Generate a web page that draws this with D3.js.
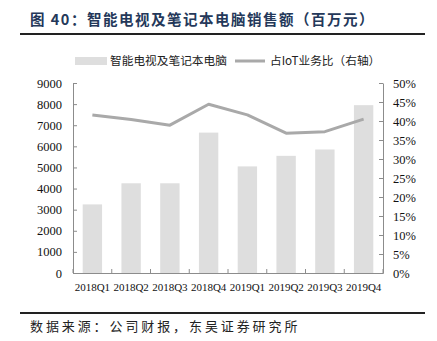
<!DOCTYPE html>
<html><head><meta charset="utf-8">
<script src="https://cdn.jsdelivr.net/npm/d3@7/dist/d3.min.js"></script>
<style>body{margin:0;background:#fff}</style>
</head><body>
<svg id="c" width="437" height="341"></svg>
<script>
const categories = ["2018Q1","2018Q2","2018Q3","2018Q4","2019Q1","2019Q2","2019Q3","2019Q4"];
const sales = [3250, 4250, 4250, 6650, 5050, 5550, 5850, 7950];
const iotShare = [41.6, 40.4, 38.9, 44.4, 41.6, 36.8, 37.2, 40.5];
const leftTicks = [0,1000,2000,3000,4000,5000,6000,7000,8000,9000];
const rightTicks = [0,5,10,15,20,25,30,35,40,45,50];
const title = "图 40：智能电视及笔记本电脑销售额（百万元）";
const source = "数据来源：公司财报，东吴证券研究所";
const legendNames = ["智能电视及笔记本电脑","占IoT业务比（右轴）"];

const svg = d3.select("#c");
const L = 73, R = 383, T = 83, B = 273;
const x = d3.scaleBand().domain(categories).range([L, R]).paddingInner(0.5).paddingOuter(0.25);
const yL = d3.scaleLinear().domain([0, 9000]).range([B, T]);
const yR = d3.scaleLinear().domain([0, 50]).range([B, T]);
const axisColor = "#8c8c8c";
const serif = "'Liberation Serif','Times New Roman',serif";
const cjk = "'Noto Sans CJK SC','Noto Sans',sans-serif";

// title
svg.append("text").attr("x", 30).attr("y", 25).attr("font-family", cjk).attr("font-weight", "bold")
  .attr("font-size", 14.5).attr("letter-spacing", 1.5).attr("fill", "#24385a").text(title);
svg.append("line").attr("x1", 20).attr("x2", 425).attr("y1", 34).attr("y2", 34).attr("stroke", "#222").attr("stroke-width", 2);

// bars
svg.append("g").selectAll("rect").data(categories).join("rect")
  .attr("x", d => x(d)).attr("width", x.bandwidth())
  .attr("y", (d,i) => yL(sales[i])).attr("height", (d,i) => B - yL(sales[i]))
  .attr("fill", "#dedede");

// line
const line = d3.line().x((d,i) => x(categories[i]) + x.bandwidth()/2).y(d => yR(d));
svg.append("path").datum(iotShare).attr("d", line).attr("fill", "none")
  .attr("stroke", "#a9a9a9").attr("stroke-width", 3).attr("stroke-linejoin", "round");

// left axis
const gL = svg.append("g").attr("transform", `translate(${L},0)`)
  .call(d3.axisLeft(yL).tickValues(leftTicks).tickSizeInner(-4).tickSizeOuter(0).tickPadding(11).tickFormat(d3.format("d")));
// right axis
const gR = svg.append("g").attr("transform", `translate(${R},0)`)
  .call(d3.axisRight(yR).tickValues(rightTicks).tickSizeInner(-4).tickSizeOuter(0).tickPadding(10).tickFormat(d => d + "%"));
// bottom axis
const gB = svg.append("g").attr("transform", `translate(0,${B})`)
  .call(d3.axisBottom(x).tickSize(0).tickPadding(10));
const step = x.step();
gB.selectAll(".sep").data(d3.range(categories.length + 1)).join("line").attr("class","sep")
  .attr("x1", i => L + i * step).attr("x2", i => L + i * step).attr("y1", 0).attr("y2", -4)
  .attr("stroke", axisColor);

[gL, gR, gB].forEach(g => {
  g.select(".domain").attr("stroke", axisColor);
  g.selectAll(".tick line").attr("stroke", axisColor);
  g.selectAll("text").attr("font-family", serif).attr("font-size", 12.5).attr("fill", "#111");
});
gB.selectAll("text").attr("font-size", 11);

// legend
const lg = svg.append("g").attr("font-family", cjk).attr("font-size", 11.7).attr("fill", "#222");
lg.append("rect").attr("x", 75).attr("y", 57).attr("width", 32).attr("height", 8).attr("fill", "#dedede");
lg.append("text").attr("x", 110).attr("y", 65).text(legendNames[0]);
lg.append("line").attr("x1", 235).attr("x2", 265).attr("y1", 61).attr("y2", 61).attr("stroke", "#a9a9a9").attr("stroke-width", 3);
lg.append("text").attr("x", 270).attr("y", 65).text(legendNames[1]);

// footer
svg.append("line").attr("x1", 20).attr("x2", 425).attr("y1", 313).attr("y2", 313).attr("stroke", "#222").attr("stroke-width", 2);
svg.append("text").attr("x", 30).attr("y", 331).attr("font-family", cjk).attr("font-size", 13)
  .attr("letter-spacing", 2.9).attr("fill", "#222").text(source);
</script>
</body></html>
